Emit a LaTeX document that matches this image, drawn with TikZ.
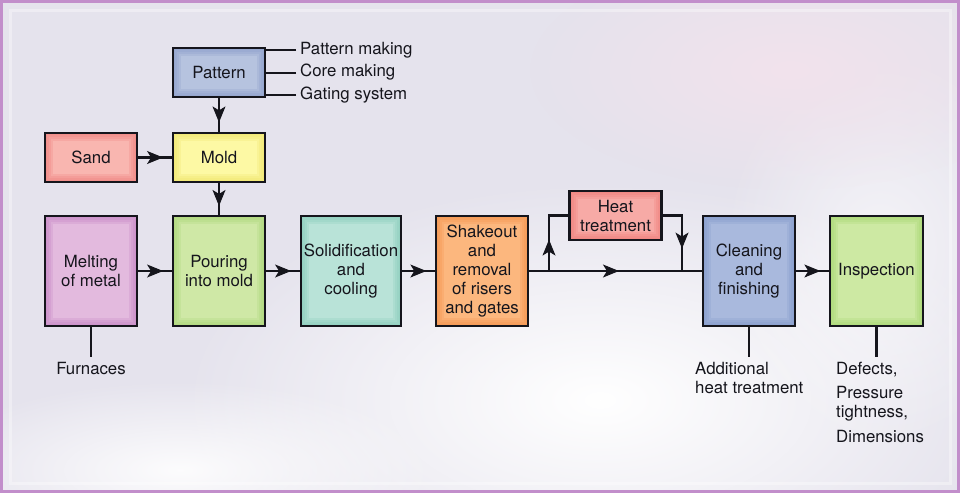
\documentclass[tikz,border=0pt]{standalone}
\usepackage{fontspec}
\setmainfont{TeX Gyre Heros}
\usetikzlibrary{arrows.meta,decorations.markings,fadings}

\definecolor{boxline}{HTML}{15151C}
\definecolor{bgbase}{HTML}{E5E3ED}
\definecolor{bgpink}{HTML}{F2E2EC}
\definecolor{framepurple}{HTML}{C28ECB}
\definecolor{pattern}{HTML}{B6C3DF}\definecolor{patternedge}{HTML}{8599C8}
\definecolor{sand}{HTML}{F9B6B0}\definecolor{sandedge}{HTML}{EE7A76}
\definecolor{mold}{HTML}{FDF9A4}\definecolor{moldedge}{HTML}{EEE262}
\definecolor{melt}{HTML}{E3BADE}\definecolor{meltedge}{HTML}{C07EC1}
\definecolor{pour}{HTML}{CFE8A6}\definecolor{pouredge}{HTML}{A5D270}
\definecolor{solid}{HTML}{B9E3D8}\definecolor{solidedge}{HTML}{80C8B6}
\definecolor{shake}{HTML}{FCB77E}\definecolor{shakeedge}{HTML}{F38E46}
\definecolor{heat}{HTML}{F7AAA6}\definecolor{heatedge}{HTML}{EE7672}
\definecolor{clean}{HTML}{A9B9DD}\definecolor{cleanedge}{HTML}{7E95C8}
\definecolor{insp}{HTML}{CDE9A3}\definecolor{inspedge}{HTML}{A2D46B}

\tikzfading[name=glow, inner color=transparent!0, outer color=transparent!100]

\tikzset{
  stage/.style={draw=boxline, line width=2.4pt, fill=#1, minimum width=92pt,
    align=center, inner sep=2pt,
    path picture={
      \foreach \w in {16,12,8,4}
        \draw[#1edge, line width=\w pt, opacity=0.22] (path picture bounding box.south west) rectangle (path picture bounding box.north east);
    }},
  short/.style={minimum height=49pt},
  tall/.style={minimum height=110pt},
  link/.style={draw=boxline, line width=2.6pt},
  tag/.style={draw=boxline, line width=2pt},
  note/.style={text height=12pt, text depth=3.5pt},
  midarrow/.style={postaction={decorate},
    decoration={markings, mark=at position #1 with {\arrow[line width=1pt]{Stealth[length=16pt,width=13pt,inset=4pt]}}}},
  midarrow/.default=0.74
}

\begin{document}
\begin{tikzpicture}[x=1pt, y=-1pt, font=\fontsize{16.8}{19}\selectfont, text=boxline]
			\useasboundingbox (0,0) rectangle (960,493);
			\fill[bgbase] (0,0) rectangle (960,493);
			\fill[white, path fading=glow] (600,400) ellipse [x radius=420pt, y radius=220pt];
			\fill[white, path fading=glow, opacity=0.9] (180,470) ellipse [x radius=260pt, y radius=90pt];
			\fill[white, path fading=glow, opacity=0.6] (880,250) ellipse [x radius=160pt, y radius=200pt];
			\fill[bgpink, path fading=glow] (790,70) ellipse [x radius=260pt, y radius=120pt];
			\draw[white, opacity=0.35, line width=3pt] (10,10) rectangle (950,483);
			\draw[framepurple, line width=3pt] (1.5,1.5) rectangle (958.5,491.5);

			\node[stage=pattern, short] (pattern) at (219,72.5) {Pattern};
			\node[stage=sand, short] (sand) at (91,157.5) {Sand};
			\node[stage=mold, short] (mold) at (219,157.5) {Mold};
			\node[stage=melt, tall] (melt) at (91,271) {Melting\\of metal};
			\node[stage=pour, tall] (pour) at (219,271) {Pouring\\into mold};
			\node[stage=solid, tall, minimum width=100pt] (solid) at (351,271) {Solidification\\and\\cooling};
			\node[stage=shake, tall] (shake) at (482,271) {Shakeout\\and\\removal\\of risers\\and gates};
			\node[stage=heat, short] (heat) at (615.5,215.5) {Heat\\treatment};
			\node[stage=clean, tall] (clean) at (749,271) {Cleaning\\and\\finishing};
			\node[stage=insp, tall, minimum width=93pt] (insp) at (876.5,271) {Inspection};

			\node[note, anchor=west, inner sep=4pt] (pmake) at (296,50) {Pattern making};
			\node[note, anchor=west, inner sep=4pt] (cmake) at (296,72.5) {Core making};
			\node[note, anchor=west, inner sep=4pt] (gsys) at (296,95) {Gating system};
			\draw[tag] (pmake.west) -- (pmake.west -| pattern.east);
			\draw[tag] (cmake.west) -- (cmake.west -| pattern.east);
			\draw[tag] (gsys.west) -- (gsys.west -| pattern.east);

			\node[anchor=north, inner xsep=0pt, inner ysep=5pt] (furn) at (91,357) {Furnaces};
			\node[anchor=north west, align=left, inner xsep=0pt, inner ysep=5pt] (addheat) at (695,357) {Additional\\heat treatment};
			\node[anchor=north west, align=left, inner xsep=0pt, inner ysep=5pt] (checks) at (836,357) {Defects,\\[5pt]Pressure\\tightness,\\[6pt]Dimensions};
			\draw[link] (melt.south) -- (furn.north);
			\draw[link] (clean.south) -- (clean.south |- addheat.north);
			\draw[link] (insp.south) -- (insp.south |- checks.north);

			\draw[link, midarrow=0.72] (pattern) -- (mold);
			\draw[link, midarrow] (sand) -- (mold);
			\draw[link, midarrow=0.72] (mold) -- (pour);
			\draw[link, midarrow] (melt) -- (pour);
			\draw[link, midarrow] (pour) -- (solid);
			\draw[link, midarrow] (solid) -- (shake);
			\draw[link, midarrow=0.52] (shake) -- (clean);
			\draw[link, midarrow] (clean) -- (insp);

			\coordinate (split) at (549,271);
			\coordinate (merge) at (682,271);
			\draw[link, midarrow=0.42] (split) -- (split |- heat.west) -- (heat.west);
			\draw[link, midarrow=0.7] (heat.east) -- (merge |- heat.east) -- (merge);
		\end{tikzpicture}
\end{document}
